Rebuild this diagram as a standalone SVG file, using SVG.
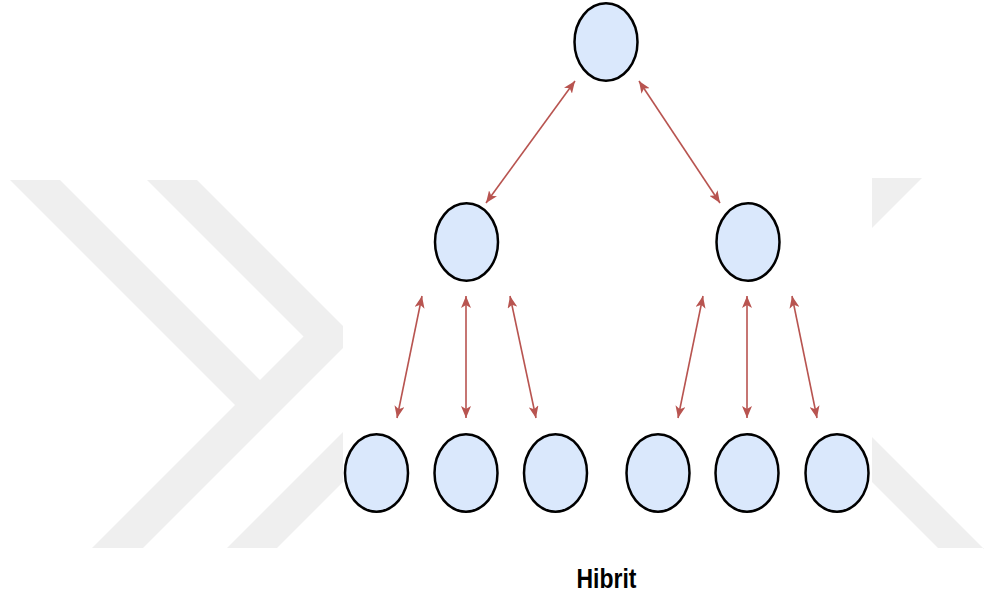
<svg xmlns="http://www.w3.org/2000/svg" width="984" height="599" viewBox="0 0 984 599">
  <style>
    .wm { fill: #efefef; stroke: none; }
    .node { fill: #dae8fc; stroke: #000000; stroke-width: 2.5; }
    .link { stroke: #b85450; stroke-width: 1.6; fill: none; marker-start: url(#tip); marker-end: url(#tip); }
    .caption { font-family: "Liberation Sans", Arial, sans-serif; font-weight: bold; font-size: 28px; fill: #000000; }
  </style>
  <defs>
    <marker id="tip" viewBox="0 0 12 10" refX="12" refY="5" markerWidth="12" markerHeight="10" markerUnits="userSpaceOnUse" orient="auto-start-reverse">
      <path d="M0,0 L12,5 L0,10 L3,5 Z" fill="#b85450"/>
    </marker>
  </defs>

  <rect width="984" height="599" fill="#ffffff"/>

  <!-- background chevron marks -->
  <g id="background">
    <polygon class="wm" points="10,180 60,180 260,380 303.5,336.5 147,180 197,180 354,337 143,548 92,548 235,405"/>
    <polygon class="wm" points="227,548 400,375 450,375 277,548"/>
    <polygon class="wm" points="850,178 922,178 850,250"/>
    <polygon class="wm" points="850,415 984,549 984,548 938,548 850,460"/>
    <rect x="343" y="0" width="529" height="599" fill="#ffffff"/>
  </g>

  <!-- connectors -->
  <g id="connectors">
    <line class="link" x1="575" y1="81" x2="486" y2="203"/>
    <line class="link" x1="639" y1="81" x2="720" y2="203"/>
    <line class="link" x1="422" y1="296" x2="397" y2="418"/>
    <line class="link" x1="466" y1="296" x2="466" y2="418"/>
    <line class="link" x1="510" y1="296" x2="536" y2="418"/>
    <line class="link" x1="703" y1="296" x2="678" y2="418"/>
    <line class="link" x1="747" y1="296" x2="747" y2="418"/>
    <line class="link" x1="792" y1="296" x2="817" y2="418"/>
  </g>

  <!-- nodes -->
  <g id="root"><ellipse class="node" cx="606" cy="42" rx="31.5" ry="38.7"/></g>
  <g id="mid-left"><ellipse class="node" cx="466.5" cy="242" rx="31.5" ry="38.7"/></g>
  <g id="mid-right"><ellipse class="node" cx="748" cy="242" rx="31.5" ry="38.7"/></g>
  <g id="leaf-1"><ellipse class="node" cx="376.5" cy="473" rx="31.5" ry="38.7"/></g>
  <g id="leaf-2"><ellipse class="node" cx="466" cy="473" rx="31.5" ry="38.7"/></g>
  <g id="leaf-3"><ellipse class="node" cx="555.5" cy="473" rx="31.5" ry="38.7"/></g>
  <g id="leaf-4"><ellipse class="node" cx="658" cy="473" rx="31.5" ry="38.7"/></g>
  <g id="leaf-5"><ellipse class="node" cx="747" cy="473" rx="31.5" ry="38.7"/></g>
  <g id="leaf-6"><ellipse class="node" cx="837" cy="473" rx="31.5" ry="38.7"/></g>

  <!-- caption -->
  <g id="caption">
    <text class="caption" transform="translate(606.5,588) scale(0.82,1)" text-anchor="middle">Hibrit</text>
  </g>
</svg>
